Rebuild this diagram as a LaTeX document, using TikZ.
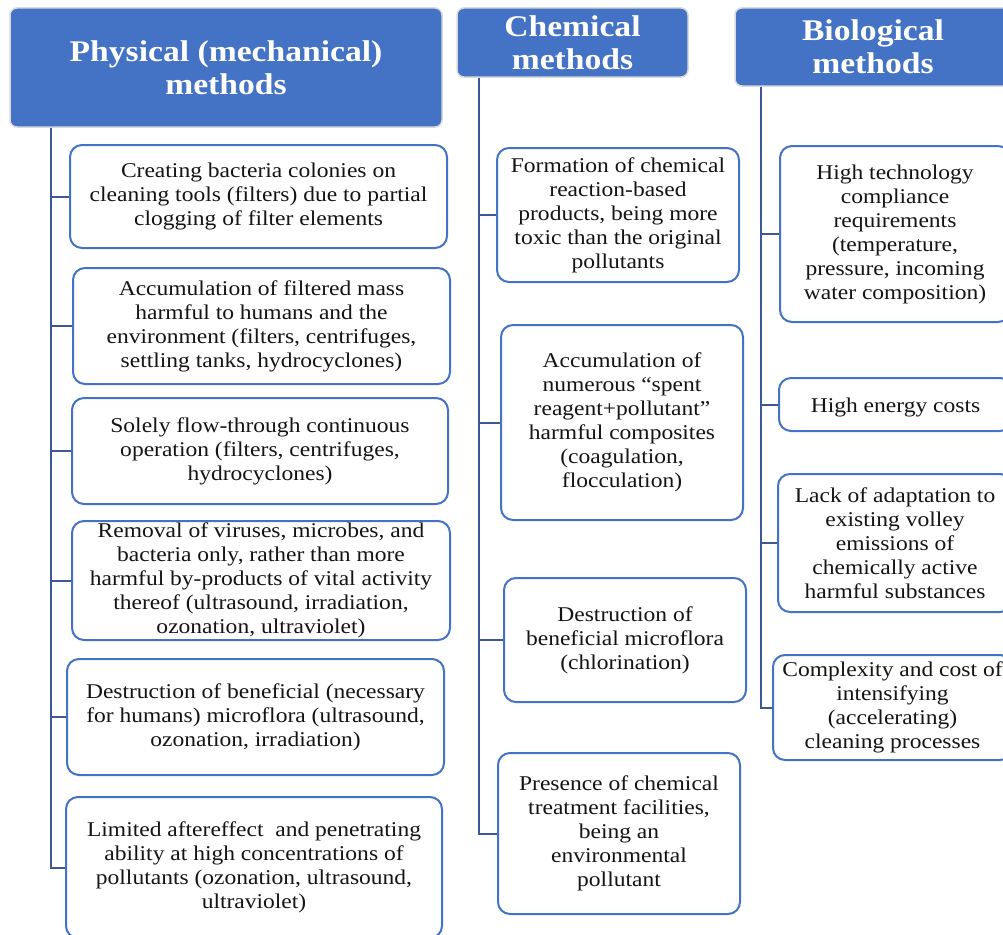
\documentclass[tikz,border=0pt]{standalone}
\usepackage{fontspec}
\setmainfont{Liberation Serif}[FakeStretch=1.12]
\usepackage{tikz}
\definecolor{hdrblue}{RGB}{68,114,196}
\definecolor{linkblue}{RGB}{62,88,150}
\definecolor{txt}{RGB}{20,20,20}

\begin{document}
\begin{tikzpicture}[x=1pt,y=-1pt,
		hdr/.style={fill=hdrblue,draw=black!15,line width=1.5pt,rounded corners=7pt,text=white,
			font=\fontsize{30}{33}\selectfont\bfseries,align=center,inner sep=0pt},
		item/.style={fill=white,draw=hdrblue,line width=2pt,rounded corners=12pt,text=txt,
			font=\fontsize{21}{24}\selectfont,align=center,inner sep=0pt,
			execute at begin node={\rule{0pt}{21pt}}},
		link/.style={draw=linkblue,line width=2pt}]
		\clip (0,0) rectangle (1003,934);
		\fill[white] (0,0) rectangle (1003,934);
		% headers
		\node[hdr,minimum width=432pt,minimum height=119pt] (h1) at (226,67.5) {Physical (mechanical)\\methods};
		\node[hdr,minimum width=231pt,minimum height=69pt] (h2) at (572.5,42.5) {Chemical\\methods};
		\node[hdr,minimum width=276pt,minimum height=78pt] (h3) at (873,47) {Biological\\methods};
		% physical
		\node[item,minimum width=377pt,minimum height=103pt] (p1) at (258.5,196.5) {Creating bacteria colonies on\\cleaning tools (filters) due to partial\\clogging of filter elements};
		\node[item,minimum width=377pt,minimum height=116pt] (p2) at (261.5,326) {Accumulation of filtered mass\\harmful to humans and the\\environment (filters, centrifuges,\\settling tanks, hydrocyclones)};
		\node[item,minimum width=376pt,minimum height=106pt] (p3) at (260,451) {Solely flow-through continuous\\operation (filters, centrifuges,\\hydrocyclones)};
		\node[item,minimum width=378pt,minimum height=119pt] (p4) at (261,580.5) {Removal of viruses, microbes, and\\bacteria only, rather than more\\harmful by-products of vital activity\\thereof (ultrasound, irradiation,\\ozonation, ultraviolet)};
		\node[item,minimum width=377pt,minimum height=116pt] (p5) at (255.5,717) {Destruction of beneficial (necessary\\for humans) microflora (ultrasound,\\ozonation, irradiation)};
		\node[item,minimum width=376pt,minimum height=141pt] (p6) at (254,867.5) {Limited aftereffect\ \ and penetrating\\ability at high concentrations of\\pollutants (ozonation, ultrasound,\\ultraviolet)};
		% chemical
		\node[item,minimum width=242pt,minimum height=134pt] (c1) at (618,215) {Formation of chemical\\reaction-based\\products, being more\\toxic than the original\\pollutants};
		\node[item,minimum width=242pt,minimum height=195pt] (c2) at (622,422.5) {Accumulation of\\numerous “spent\\reagent+pollutant”\\harmful composites\\(coagulation,\\flocculation)};
		\node[item,minimum width=242pt,minimum height=124pt] (c3) at (625,640) {Destruction of\\beneficial microflora\\(chlorination)};
		\node[item,minimum width=242pt,minimum height=161pt] (c4) at (619,833.5) {Presence of chemical\\treatment facilities,\\being an\\environmental\\pollutant};
		% biological
		\node[item,minimum width=230pt,minimum height=176pt] (b1) at (895,234) {High technology\\compliance\\requirements\\(temperature,\\pressure, incoming\\water composition)};
		\node[item,minimum width=233pt,minimum height=53pt] (b2) at (895.5,404.5) {High energy costs};
		\node[item,minimum width=234pt,minimum height=138pt] (b3) at (895,543) {Lack of adaptation to\\existing volley\\emissions of\\chemically active\\harmful substances};
		\node[item,minimum width=239pt,minimum height=105pt] (b4) at (892.5,707.5) {Complexity and cost of\\intensifying\\(accelerating)\\cleaning processes};
		% connectors
		\path (h1.south west) ++(42,0) coordinate (ptop);
		\path (h2.south west) ++(23,0) coordinate (ctop);
		\path (h3.south west) ++(27,0) coordinate (btop);
		\foreach \n in {p1,p2,p3,p4,p5,p6} \draw[link] (ptop) |- (\n.west);
		\foreach \n in {c1,c2,c3,c4} \draw[link] (ctop) |- (\n.west);
		\foreach \n in {b1,b2,b3,b4} \draw[link] (btop) |- (\n.west);
	\end{tikzpicture}
\end{document}
